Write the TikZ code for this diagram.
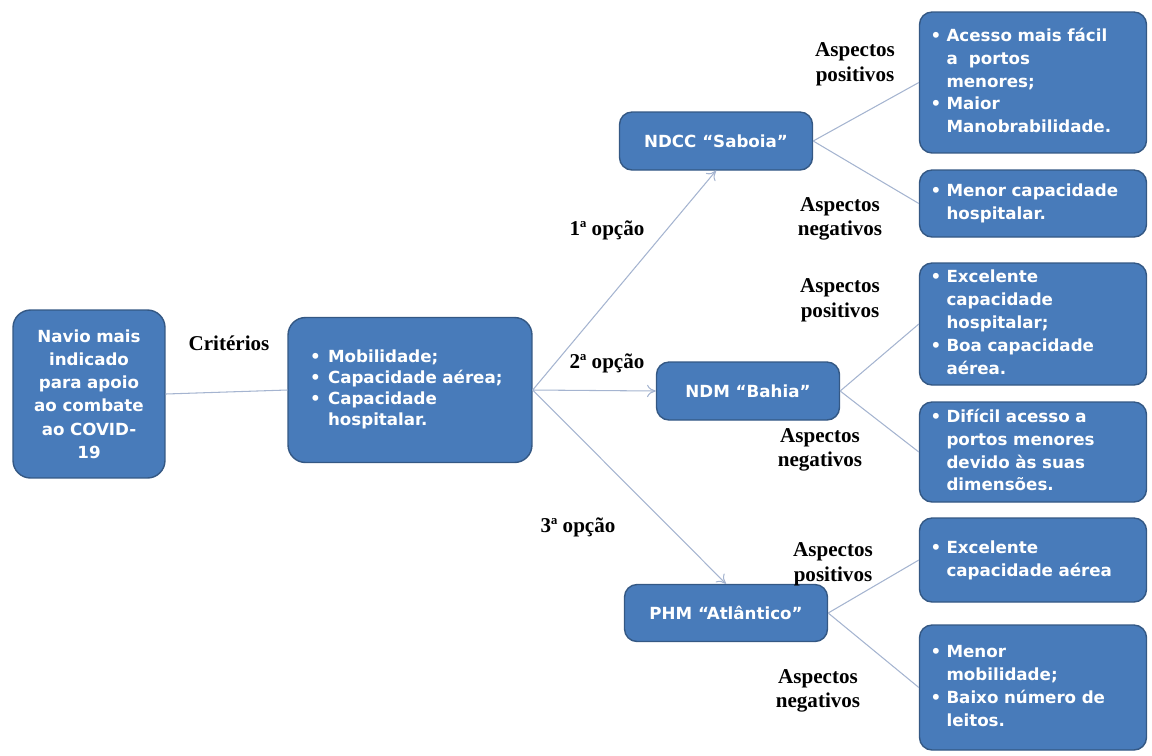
\documentclass[tikz,border=0pt]{standalone}
\usepackage{fontspec}
\setmainfont{Liberation Serif}
\newfontfamily\boxfont{DejaVu Sans}
\usetikzlibrary{arrows.meta}

\definecolor{boxblue}{RGB}{72,123,186}
\definecolor{boxedge}{RGB}{52,88,132}
\definecolor{linkgray}{RGB}{165,180,208}

\newlength{\bhang}
\setlength{\bhang}{0.32cm}
% bullet list: one row per printed line
\newcommand{\blist}[1]{\begin{tabular}{@{}p{\bhang}@{}l@{}}#1\end{tabular}}

\begin{document}
\begin{tikzpicture}[x=0.02cm, y=-0.02cm,
    box/.style={draw=boxedge, fill=boxblue, text=white, line width=0.8pt,
      rounded corners=0.25cm, inner sep=0pt, font=\boxfont\bfseries\fontsize{9.5}{11}\selectfont},
    list/.style={box, text width=4.1cm, align=left, minimum width=4.54cm,
      font=\boxfont\bfseries\fontsize{9.5}{13}\selectfont},
    lbl/.style={align=center, font=\bfseries\fontsize{12}{14}\selectfont},
    link/.style={draw=linkgray, line width=0.6pt},
    opt/.style={link, -{To[length=5pt,width=7pt]}}]
  \useasboundingbox (0,0) rectangle (1152,755);

  % left part
  \node[box, align=center, text width=2.9cm, minimum width=3.04cm, minimum height=3.36cm,
    rounded corners=0.35cm, font=\boxfont\bfseries\fontsize{9.5}{13.2}\selectfont] (root) at (89,394)
    {Navio mais\\indicado\\para apoio\\ao combate\\ao COVID-\\19};
  \node[box, text width=4.0cm, align=left, minimum width=4.88cm, minimum height=2.9cm,
    rounded corners=0.35cm, font=\boxfont\bfseries\fontsize{9.5}{12}\selectfont] (crit) at (410,390)
    {\setlength{\bhang}{0.36cm}\blist{\textbullet & Mobilidade;\\ \textbullet & Capacidade aérea;\\
      \textbullet & Capacidade\\ & hospitalar.}};

  % ships
  \node[box, minimum width=3.86cm, minimum height=1.16cm] (ndcc) at (716,141) {NDCC “Saboia”};
  \node[box, minimum width=3.66cm, minimum height=1.16cm] (ndm) at (748,391) {NDM “Bahia”};
  \node[box, minimum width=4.06cm, minimum height=1.14cm] (phm) at (726,613) {PHM “Atlântico”};

  % aspects
  \node[list, minimum height=2.82cm] (pa) at (1033,82.5)
    {\blist{\textbullet & Acesso mais fácil\\ & a\ \ portos\\ & menores;\\ \textbullet & Maior\\ & Manobrabilidade.}};
  \node[list, minimum height=1.34cm] (na) at (1033,203.5)
    {\blist{\textbullet & Menor capacidade\\ & hospitalar.}};
  \node[list, minimum height=2.44cm] (pb) at (1033,324)
    {\blist{\textbullet & Excelente\\ & capacidade\\ & hospitalar;\\ \textbullet & Boa capacidade\\ & aérea.}};
  \node[list, minimum height=2.0cm] (nb) at (1033,452)
    {\blist{\textbullet & Difícil acesso a\\ & portos menores\\ & devido às suas\\ & dimensões.}};
  \node[list, minimum height=1.68cm] (pc) at (1033,560)
    {\blist{\textbullet & Excelente\\ & capacidade aérea}};
  \node[list, minimum height=2.5cm] (nc) at (1033,687.5)
    {\blist{\textbullet & Menor\\ & mobilidade;\\ \textbullet & Baixo número de\\ & leitos.}};

  % connectors
  \draw[link] (root.east) -- (crit.west);
  \draw[opt] (crit.east) -- (ndcc.south);
  \draw[opt] (crit.east) -- (ndm.west);
  \draw[opt] (crit.east) -- (phm.north);
  \foreach \s/\t in {ndcc/pa, ndcc/na, ndm/pb, ndm/nb, phm/pc, phm/nc} {
    \draw[link] (\s.east) -- (\t.west);
  }

  % labels
  \node[lbl] (critlbl) at (229,343) {Critérios};
  \node[lbl] (op1) at (607,230) {1ª opção};
  \node[lbl] (op2) at (607,363) {2ª opção};
  \node[lbl] (op3) at (578,527) {3ª opção};
  \node[lbl] (pos1) at (855,64) {Aspectos\\positivos};
  \node[lbl] (neg1) at (840,219) {Aspectos\\negativos};
  \node[lbl] (pos2) at (840,300) {Aspectos\\positivos};
  \node[lbl] (neg2) at (820,450) {Aspectos\\negativos};
  \node[lbl] (pos3) at (833,564) {Aspectos\\positivos};
  \node[lbl] (neg3) at (818,691) {Aspectos\\negativos};
\end{tikzpicture}
\end{document}
